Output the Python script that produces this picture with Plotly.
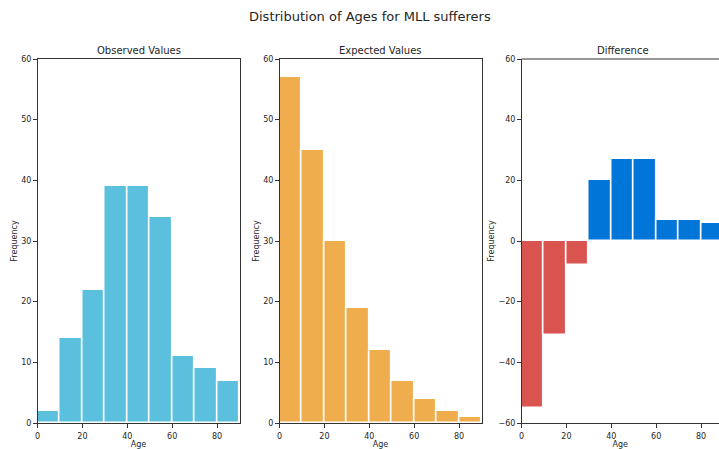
import plotly.graph_objects as go

# Age bins (years) and counts per bin
bin_edges = [0, 10, 20, 30, 40, 50, 60, 70, 80, 90]
observed = [2, 14, 22, 39, 39, 34, 11, 9, 7]
expected = [57, 45, 30, 19, 12, 7, 4, 2, 1]
difference = [o - e for o, e in zip(observed, expected)]

panel_titles = ["Observed Values", "Expected Values", "Difference"]
suptitle = "Distribution of Ages for MLL sufferers"

OBS_COLOR = "#5bc0de"
EXP_COLOR = "#f0ad4e"
NEG_COLOR = "#d9534f"
POS_COLOR = "#0275d8"

W, H = 719, 449
FONT = "DejaVu Sans"
TXT = "#262626"
SPINE = "#333333"

centers = [(a + b) / 2 for a, b in zip(bin_edges[:-1], bin_edges[1:])]
widths = [b - a for a, b in zip(bin_edges[:-1], bin_edges[1:])]

fig = go.Figure()

series = [
    (observed, [OBS_COLOR] * len(observed)),
    (expected, [EXP_COLOR] * len(expected)),
    (difference, [POS_COLOR if d >= 0 else NEG_COLOR for d in difference]),
]
for i, (vals, cols) in enumerate(series):
    ax = "" if i == 0 else str(i + 1)
    fig.add_trace(go.Bar(
        x=centers, y=vals, width=widths,
        marker=dict(color=cols, line=dict(color="white", width=1.6)),
        xaxis="x" + ax, yaxis="y" + ax, showlegend=False,
        hoverinfo="x+y",
    ))

# pixel geometry of the three axes boxes
x_doms = [(37.5, 239.5), (279.5, 481.5), (521.5, 719.0)]
y_top, y_bot = 59.0, 423.0
ydom = [1 - y_bot / H, 1 - y_top / H]
px_per_unit = 202.0 / 90.0

common_axis = dict(
    showgrid=False, zeroline=False, showline=True, linecolor=SPINE,
    linewidth=1, ticks="outside", ticklen=3.5, tickwidth=0.8,
    tickcolor=SPINE, tickfont=dict(family=FONT, size=8, color=TXT),
    automargin=False,
)

layout = dict(
    width=W, height=H, margin=dict(l=0, r=0, t=0, b=0),
    paper_bgcolor="white", plot_bgcolor="white",
    bargap=0, font=dict(family=FONT, color=TXT),
)

annotations = [dict(
    text=suptitle, x=370 / W, y=1 - 17 / H, xref="paper", yref="paper",
    xanchor="center", yanchor="middle", showarrow=False,
    font=dict(family=FONT, size=13, color=TXT),
)]

for i, (x0, x1) in enumerate(x_doms):
    ax = "" if i == 0 else str(i + 1)
    xmax = (x1 - x0) / px_per_unit
    last = i == 2
    layout["xaxis" + ax] = dict(
        common_axis, domain=[x0 / W, x1 / W], range=[0, xmax],
        tickvals=[0, 20, 40, 60, 80], anchor="y" + ax,
        mirror=not last, ticklabelstandoff=2,
        title=dict(text="Age", font=dict(family=FONT, size=8, color=TXT), standoff=1),
    )
    if last:
        yr, yt = [-60, 60], [-60, -40, -20, 0, 20, 40, 60]
    else:
        yr, yt = [0, 60], [0, 10, 20, 30, 40, 50, 60]
    layout["yaxis" + ax] = dict(
        common_axis, domain=ydom, range=yr, tickvals=yt, anchor="x" + ax,
        mirror=not last,
        title=dict(text="Frequency", font=dict(family=FONT, size=8, color=TXT), standoff=2),
    )
    annotations.append(dict(
        text=panel_titles[i], x=((x0 + x1) / 2) / W if not last else (x0 + 101) / W,
        y=1 - 50 / H, xref="paper", yref="paper", xanchor="center",
        yanchor="middle", showarrow=False,
        font=dict(family=FONT, size=10, color=TXT),
    ))

# top border on the clipped right-hand panel
shapes = [dict(type="line", xref="paper", yref="paper",
               x0=x_doms[2][0] / W, x1=1, y0=ydom[1], y1=ydom[1],
               line=dict(color=SPINE, width=1))]

layout["annotations"] = annotations
layout["shapes"] = shapes
fig.update_layout(**layout)

fig.write_html("out.html")
